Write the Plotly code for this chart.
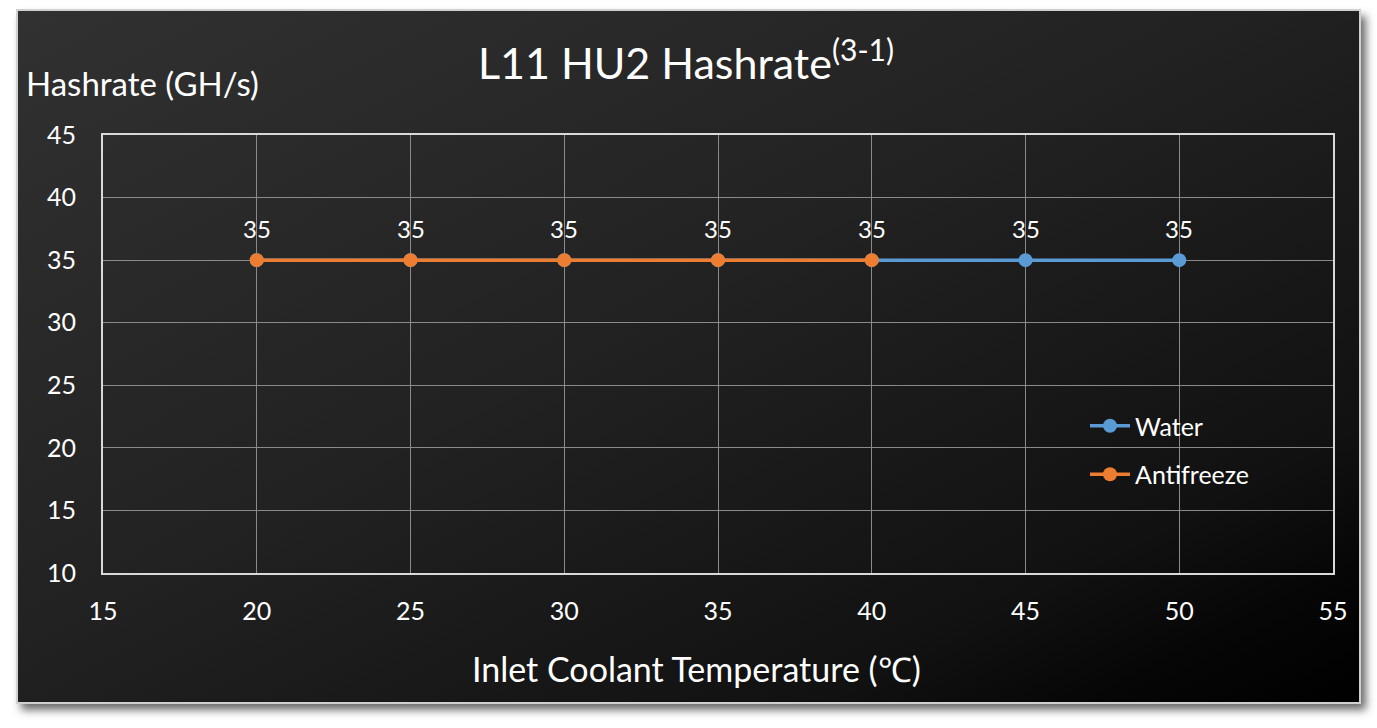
import base64
import plotly.graph_objects as go

# ---- data ----
water_x = [20, 25, 30, 35, 40, 45, 50]
water_y = [35, 35, 35, 35, 35, 35, 35]
anti_x = [20, 25, 30, 35, 40]
anti_y = [35, 35, 35, 35, 35]
x_ticks = [15, 20, 25, 30, 35, 40, 45, 50, 55]
y_ticks = [10, 15, 20, 25, 30, 35, 40, 45]

W, H = 1377, 728
L, R, T, B = 103, 1333, 135, 573
pw, ph = R - L, B - T

FONT = "Lato"
WHITE = "#ffffff"
BLUE = "#5B9BD5"
ORANGE = "#ED7D31"

# background card (gradient + border + shadow) as svg
svg = f'''<svg xmlns="http://www.w3.org/2000/svg" width="{W}" height="{H}" viewBox="0 0 {W} {H}">
<defs>
<linearGradient id="g" x1="0" y1="0" x2="1" y2="1">
<stop offset="0" stop-color="#313131"/>
<stop offset="0.45" stop-color="#222222"/>
<stop offset="0.8" stop-color="#111111"/>
<stop offset="0.9" stop-color="#060606"/>
<stop offset="1" stop-color="#000000"/>
</linearGradient>
<filter id="s" x="-10%" y="-10%" width="120%" height="120%"><feGaussianBlur stdDeviation="4"/></filter>
</defs>
<rect x="0" y="0" width="{W}" height="{H}" fill="#ffffff"/>
<rect x="21" y="16" width="1345" height="694" fill="#6a6a6a" filter="url(#s)"/>
<rect x="16" y="9" width="1345" height="695" fill="#d0d0d0"/>
<rect x="18" y="11" width="1341" height="691" fill="url(#g)"/>
</svg>'''
src = "data:image/svg+xml;base64," + base64.b64encode(svg.encode()).decode()

fig = go.Figure()
fig.add_trace(go.Scatter(
    x=water_x, y=water_y, name="Water", legendgroup="w",
    mode="lines+markers",
    line=dict(color=BLUE, width=3.5), marker=dict(color=BLUE, size=14),
))
fig.add_trace(go.Scatter(
    x=anti_x, y=anti_y, name="Antifreeze", legendgroup="a",
    mode="lines+markers",
    line=dict(color=ORANGE, width=3.5), marker=dict(color=ORANGE, size=14),
))

# data labels from the water series values
labels = [dict(x=xv, y=yv, xref="x", yref="y", text=str(yv), showarrow=False,
               yshift=32, yanchor="middle", font=dict(size=24, color=WHITE, family=FONT))
          for xv, yv in zip(water_x, water_y)]

fig.update_layout(
    width=W, height=H,
    margin=dict(l=L, r=W - R, t=T, b=H - B, autoexpand=False),
    paper_bgcolor="#ffffff", plot_bgcolor="rgba(0,0,0,0)",
    font=dict(family=FONT, color=WHITE, size=24),
    showlegend=True,
    legend=dict(x=(1085 - L) / pw, y=1 - (403 - T) / ph, xanchor="left", yanchor="top",
                bgcolor="rgba(0,0,0,0)", font=dict(size=25, color=WHITE, family=FONT),
                traceorder="grouped", tracegroupgap=13, itemwidth=40),
    title=dict(text="L11 HU2 Hashrate<sup>(3-1)</sup>", x=686 / W, y=1 - 64 / H,
               xanchor="center", yanchor="middle", xref="container", yref="container",
               font=dict(size=43, color=WHITE, family=FONT)),
    images=[dict(source=src, xref="paper", yref="paper",
                 x=-L / pw, y=1 + T / ph, sizex=W / pw, sizey=H / ph,
                 sizing="stretch", xanchor="left", yanchor="top", layer="below")],
    annotations=labels + [
        dict(text="Hashrate (GH/s)", xref="paper", yref="paper",
             x=(24 - L) / pw, y=1 + (T - 83) / ph, xanchor="left", yanchor="middle",
             showarrow=False, font=dict(size=33, color=WHITE, family=FONT)),
        dict(text="Inlet Coolant Temperature (℃)", xref="paper", yref="paper",
             x=(696 - L) / pw, y=1 - (668 - T) / ph, xanchor="center", yanchor="middle",
             showarrow=False, font=dict(size=34, color=WHITE, family=FONT)),
    ],
)
fig.update_xaxes(range=[15, 55], tickvals=x_ticks, ticktext=[str(v) for v in x_ticks],
                 showgrid=True, gridcolor="#8a8a8a", gridwidth=1,
                 showline=True, linecolor="#d9d9d9", linewidth=2, mirror=True,
                 zeroline=False, ticks="", ticklabelstandoff=15,
                 tickfont=dict(size=25, color=WHITE, family=FONT))
fig.update_yaxes(range=[10, 45], tickvals=y_ticks, ticktext=[str(v) for v in y_ticks],
                 showgrid=True, gridcolor="#8a8a8a", gridwidth=1,
                 showline=True, linecolor="#d9d9d9", linewidth=2, mirror=True,
                 zeroline=False, ticks="", ticklabelstandoff=20,
                 tickfont=dict(size=25, color=WHITE, family=FONT))

fig.write_html("out.html", config={"displayModeBar": False})

# remove the browser's default page margin so the figure sits at (0, 0)
with open("out.html", encoding="utf-8") as f:
    html = f.read()
html = html.replace("<head>", "<head><style>html,body{margin:0;padding:0;}</style>", 1)
with open("out.html", "w", encoding="utf-8") as f:
    f.write(html)
